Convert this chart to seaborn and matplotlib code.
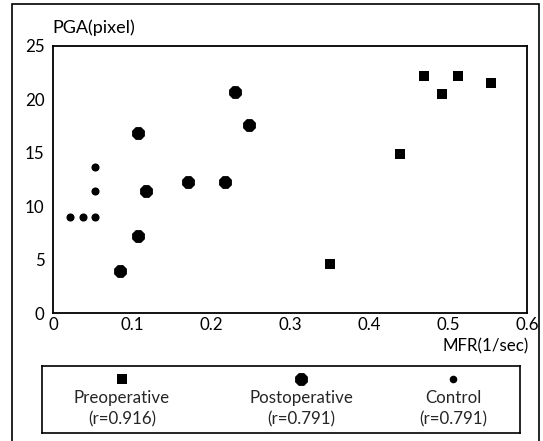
import matplotlib
matplotlib.use("Agg")
import matplotlib.pyplot as plt
import matplotlib.patches as mpatches
import seaborn as sns
import pandas as pd

# Data
pre_x = [0.351, 0.439, 0.470, 0.493, 0.513, 0.555]
pre_y = [4.6, 14.9, 22.2, 20.5, 22.2, 21.5]
post_x = [0.085, 0.108, 0.107, 0.118, 0.171, 0.218, 0.231, 0.248]
post_y = [3.9, 7.2, 16.9, 11.4, 12.3, 12.3, 20.7, 17.6]
ctrl_x = [0.022, 0.038, 0.053, 0.053, 0.053]
ctrl_y = [9.0, 9.0, 9.0, 11.4, 13.7]
groups = ["Preoperative", "Postoperative", "Control"]
r_labels = ["(r=0.916)", "(r=0.791)", "(r=0.791)"]
x_ticks = [0, 0.1, 0.2, 0.3, 0.4, 0.5, 0.6]
x_tick_labels = ["0", "0.1", "0.2", "0.3", "0.4", "0.5", "0.6"]
y_ticks = [0, 5, 10, 15, 20, 25]

df = pd.DataFrame({
    "MFR": pre_x + post_x + ctrl_x,
    "PGA": pre_y + post_y + ctrl_y,
    "group": [groups[0]] * len(pre_x) + [groups[1]] * len(post_x) + [groups[2]] * len(ctrl_x),
})

sns.set_theme(style="white")
plt.rcParams["font.family"] = ["Lato", "DejaVu Sans"]
FS = 12.2

fig = plt.figure(figsize=(5.43, 4.41), dpi=100)
ax = fig.add_axes([53 / 543, 1 - 313 / 441, 474 / 543, 267 / 441])

markers = {groups[0]: "s", groups[1]: "8", groups[2]: "o"}
sizes = {groups[0]: 58, groups[1]: 100, groups[2]: 34}
for g in groups:
    sub = df[df["group"] == g]
    sns.scatterplot(data=sub, x="MFR", y="PGA", marker=markers[g], s=sizes[g],
                    color="black", linewidth=0, ax=ax, legend=False, zorder=3)

ax.set_xlim(0, 0.6)
ax.set_ylim(0, 25)
ax.set_xticks(x_ticks)
ax.set_xticklabels(x_tick_labels)
ax.set_yticks(y_ticks)
ax.tick_params(axis="both", length=0, labelsize=FS, colors="black")
ax.tick_params(axis="x", pad=3)
ax.tick_params(axis="y", pad=6)
ax.set_xlabel("")
ax.set_ylabel("")
for sp in ax.spines.values():
    sp.set_color("black")
    sp.set_linewidth(1.3)

fig.text(52 / 543, 1 - 28 / 441, "PGA(pixel)", ha="left", va="center", fontsize=13, color="black")
fig.text(529 / 543, 1 - 346 / 441, "MFR(1/sec)", ha="right", va="center", fontsize=FS, color="black")

# Legend box
lax = fig.add_axes([42 / 543, 1 - 433 / 441, 478 / 543, 67 / 441])
lax.set_xlim(0, 1)
lax.set_ylim(0, 1)
lax.set_xticks([])
lax.set_yticks([])
for sp in lax.spines.values():
    sp.set_color("black")
    sp.set_linewidth(1.2)
centers = [(122 - 42) / 478, (301 - 42) / 478, (453 - 42) / 478]
leg_sizes = [48, 100, 30]
for c, g, rl, s in zip(centers, groups, r_labels, leg_sizes):
    lax.scatter([c], [(433 - 379) / 67], marker=markers[g], s=s, color="black", linewidth=0)
    lax.text(c, (433 - 398) / 67, g, ha="center", va="center", fontsize=FS)
    lax.text(c, (433 - 419) / 67, rl, ha="center", va="center", fontsize=FS)

# Outer frame
frame = mpatches.Rectangle((12 / 543, -0.05), 527 / 543, 1.05 - 3.5 / 441,
                           transform=fig.transFigure, fill=False,
                           edgecolor="black", linewidth=1.2, clip_on=False)
fig.patches.append(frame)

fig.savefig("out.png", dpi=100, facecolor="white")
